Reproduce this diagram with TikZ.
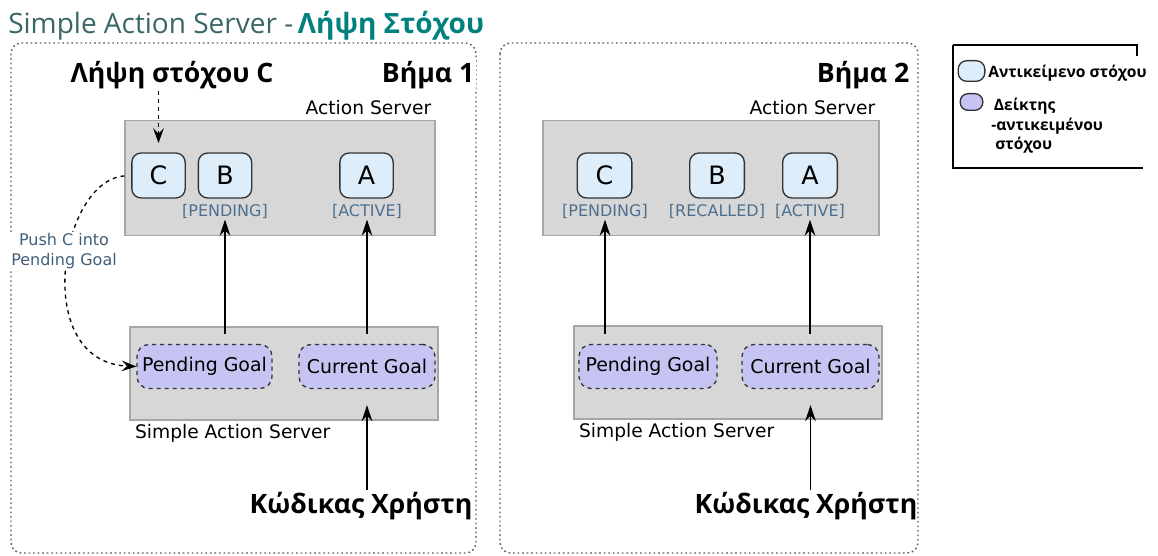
\documentclass[tikz,border=0pt]{standalone}
\usepackage{fontspec}
\setmainfont{DejaVu Sans}
\newfontfamily\headfont{Open Sans}
\usepackage{tikz}
\usetikzlibrary{arrows.meta}
\usetikzlibrary{positioning}
\usepackage{xcolor}
\definecolor{titlegray}{HTML}{3A6668}
\definecolor{titleteal}{HTML}{00807E}
\definecolor{objblue}{HTML}{DDEDFA}
\definecolor{ptrlilac}{HTML}{C6C4F2}
\definecolor{boxgray}{HTML}{D7D7D7}
\definecolor{statblue}{HTML}{4D7090}

\begin{document}
\begin{tikzpicture}[x=0.75pt,y=-0.75pt,
   goalobj/.style={draw=black!80,fill=objblue,line width=1pt,rounded corners=7pt,
      minimum width=40pt,minimum height=33.75pt,inner sep=0pt,
      font=\fontsize{19}{22}\selectfont},
   goalptr/.style={draw=black!80,fill=ptrlilac,line width=1pt,dashed,rounded corners=9pt,
      minimum height=33pt,inner sep=0pt,font=\fontsize{14.2}{17}\selectfont},
   srvbox/.style={draw=black!35,fill=boxgray,line width=0.8pt,inner sep=0pt},
   srvname/.style={font=\fontsize{14}{16}\selectfont,inner sep=1pt},
   status/.style={text=statblue,font=\fontsize{12}{14}\selectfont,inner sep=1pt},
   headline/.style={font=\headfont\bfseries\fontsize{20}{24}\selectfont,inner sep=1pt},
   panel/.style={draw=black!65,line width=1.1pt,dash pattern=on 1.2pt off 2.2pt,rounded corners=8pt},
   arr/.style={-{Stealth[length=12pt,width=8pt,inset=4pt]},line width=1pt},
   dasharr/.style={-{Stealth[length=11pt,width=8pt,inset=4pt]},line width=1pt,dash pattern=on 3pt off 3pt}]
   \useasboundingbox (0,0) rectangle (1158,556);

   % title
   \node[anchor=base west,inner sep=0pt,font=\headfont\fontsize{21}{25}\selectfont] (title) at (8,34)
      {\textcolor{titlegray}{Simple Action Server -}\,\textcolor{titleteal}{\bfseries Λήψη Στόχου}};

   % panels
   \draw[panel] (11,43) rectangle (476,553);
   \draw[panel] (500,43) rectangle (918,553);

   % step 1
   \node[srvbox,minimum width=232.5pt,minimum height=86.25pt] (as1) at (280,178) {};
   \node[srvname,anchor=south east] (asname1) at ([xshift=-2pt,yshift=3pt]as1.north east) {Action Server};
   \node[goalobj] (c1) at (158.5,175.5) {C};
   \node[goalobj] (b1) at (225,175.5) {B};
   \node[goalobj] (a1) at (366.5,175.5) {A};
   \node[status] (pend1) at (225,211) {[PENDING]};
   \node[status] (act1) at (367,211) {[ACTIVE]};

   \node[srvbox,minimum width=231pt,minimum height=69.75pt] (sas1) at (284,373.5) {};
   \node[srvname,anchor=north west] (sasname1) at ([xshift=3pt,yshift=-2pt]sas1.south west) {Simple Action Server};
   \node[goalptr,minimum width=101.25pt] (pg1) at (204.5,366.5) {Pending Goal};
   \node[goalptr,minimum width=102pt] (cg1) at (367,366.5) {Current Goal};

   \node[headline,anchor=base] (recv1) at (172,83) {Λήψη στόχου C};
   \node[headline,anchor=base east,fill=white] (step1) at (476,83) {Βήμα 1};
   \node[headline,anchor=base] (user1) at (361,513) {Κώδικας Χρήστη};

   \draw[dasharr,shorten >=7pt] (c1.north |- recv1.south) -- (c1.north);
   \draw[dasharr,shorten <=5pt] (c1.west) .. controls (60,180) and (30,362) .. (pg1.west);
   \node[text=statblue!85!black,align=center,font=\fontsize{12}{15.5}\selectfont,fill=white,inner sep=1pt] (push1) at (64,251)
      {Push C into\\Pending Goal};
   \draw[arr,shorten <=7.5pt] (pend1.south |- pg1.north) -- (pend1.south);
   \draw[arr,shorten <=7.5pt] (act1.south |- cg1.north) -- (act1.south);
   \draw[arr,shorten >=12pt] (cg1.south |- user1.north) -- (cg1.south);

   % step 2
   \node[srvbox,minimum width=252pt,minimum height=86.25pt] (as2) at (711,178) {};
   \node[srvname,anchor=south east] (asname2) at ([xshift=-2pt,yshift=3pt]as2.north east) {Action Server};
   \node[goalobj,minimum width=41pt] (c2) at (604.5,175.5) {C};
   \node[goalobj,minimum width=41pt] (b2) at (717,175.5) {B};
   \node[goalobj,minimum width=41pt] (a2) at (810,175.5) {A};
   \node[status] (pend2) at (605,211) {[PENDING]};
   \node[status] (rec2) at (717,211) {[RECALLED]};
   \node[status] (act2) at (810,211) {[ACTIVE]};

   \node[srvbox,minimum width=231pt,minimum height=69.75pt] (sas2) at (728,372.5) {};
   \node[srvname,anchor=north west] (sasname2) at ([xshift=3pt,yshift=-2pt]sas2.south west) {Simple Action Server};
   \node[goalptr,minimum width=103.5pt] (pg2) at (648,366.5) {Pending Goal};
   \node[goalptr,minimum width=102.75pt] (cg2) at (810.5,366.5) {Current Goal};

   \node[headline,anchor=base east,fill=white] (step2) at (911,83) {Βήμα 2};
   \node[headline,anchor=base] (user2) at (806,513) {Κώδικας Χρήστη};

   \draw[arr,shorten <=7.5pt] (pend2.south |- pg2.north) -- (pend2.south);
   \draw[arr,shorten <=7.5pt] (act2.south |- cg2.north) -- (act2.south);
   \draw[arr,shorten >=12pt] (cg2.south |- user2.north) -- (cg2.south);

   % legend
   \draw[line width=1.2pt] (1137,56) -- (1137,45) -- (953,45);
   \draw[line width=2.2pt] (953,45) -- (953,168) -- (1143,168);
   \node[draw=black!80,fill=objblue,line width=1pt,rounded corners=6.5pt,minimum width=20pt,minimum height=15.5pt,inner sep=0pt] (leg1) at (971.5,71) {};
   \node[draw=black!80,fill=ptrlilac,line width=1pt,rounded corners=6pt,minimum width=17pt,minimum height=12.5pt,inner sep=0pt] (leg2) at (971.5,102) {};
   \node[anchor=west,font=\headfont\bfseries\fontsize{11.7}{14}\selectfont,inner sep=0pt] (legtxt1) at (988,73) {Αντικείμενο στόχου};
   \node[anchor=north west,align=left,font=\headfont\bfseries\fontsize{11.7}{14.6}\selectfont,inner sep=0pt] (legtxt2) at (991,98)
      {\hspace*{2pt}Δείκτης\\-αντικειμένου\\\hspace*{3pt}στόχου};
\end{tikzpicture}
\end{document}
